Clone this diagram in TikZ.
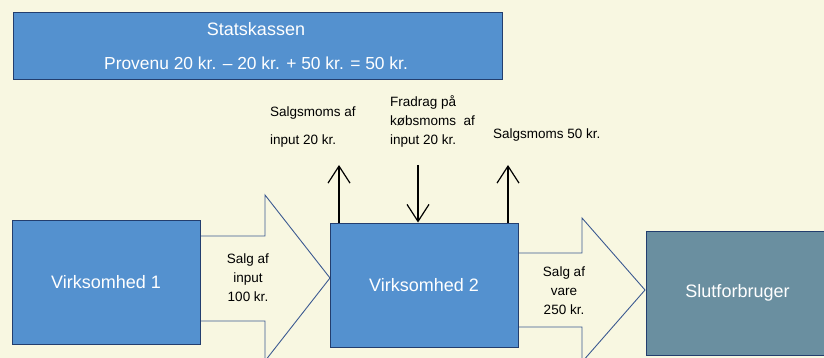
\documentclass[tikz,border=0pt]{standalone}
\usepackage{fontspec}
\setmainfont{Liberation Sans}
\usetikzlibrary{arrows.meta}
\definecolor{paper}{RGB}{248,247,225}
\definecolor{boxblue}{RGB}{84,145,207}
\definecolor{boxedge}{RGB}{35,62,110}
\definecolor{endbox}{RGB}{106,143,160}
\definecolor{flowedge}{RGB}{60,90,145}
\begin{document}
\begin{tikzpicture}[x=1pt,y=-1pt,
  box/.style={draw=boxedge,line width=1pt,fill=boxblue,inner sep=0pt,
    text=white,font=\fontsize{18}{22}\selectfont},
  boxtext/.style={text=white,font=\fontsize{18}{22}\selectfont,inner sep=0pt,anchor=base},
  flow/.style={draw=flowedge,line width=0.9pt,fill=paper,line join=miter},
  small/.style={font=\fontsize{13.5}{19}\selectfont,inner sep=0pt,text=black},
  vat/.style={draw=black,line width=1.2pt,-{Straight Barb[length=17pt,width=22pt,line width=1.2pt]}}]
% page and background
\useasboundingbox (0,0) rectangle (824,358);
\clip (0,0) rectangle (824,358);
\fill[paper] (0,0) rectangle (824,358);

% treasury box
\node[box,minimum width=489pt,minimum height=67pt] (stat) at (257.5,46.5) {};
\node[boxtext] (statname) at (256,36) {Statskassen};
\node[boxtext,font=\fontsize{17.4}{22}\selectfont] (statsum) at (256,70) {Provenu 20 kr. – 20 kr. + 50 kr. = 50 kr.};

% block arrows (drawn first, the boxes cover their tails)
\path[flow] (190,236) -- (265,236) -- (265,195) -- (330,278) -- (265,361)
  -- (265,321) -- (190,321) -- cycle;
\path[flow] (508,253) -- (582,253) -- (582,218) -- (645,290) -- (582,362)
  -- (582,327) -- (508,327) -- cycle;

% companies and consumer
\node[box,minimum width=188pt,minimum height=124pt] (v1) at (106,282) {Virksomhed 1};
\node[box,minimum width=188pt,minimum height=124pt] (v2) at (424,285) {Virksomhed 2};
\node[box,fill=endbox,minimum width=183pt,minimum height=124pt] (slut) at (737.5,293) {Slutforbruger};

% labels inside the block arrows (base = baseline of the last line)
\node[small,align=center,anchor=base] (sale1) at (248,301) {Salg af\\input\\100 kr.};
\node[small,align=center,anchor=base] (sale2) at (564,314) {Salg af\\vare\\250 kr.};

% VAT flows to and from the treasury
\coordinate (t1) at (339,165);
\coordinate (t2) at (418,165);
\coordinate (t3) at (508,165);
\draw[vat] (v2.north -| t1) -- (t1);
\draw[vat] (t2) -- (v2.north -| t2);
\draw[vat] (v2.north -| t3) -- (t3);

\node[small,align=left,anchor=base west,font=\fontsize{13.5}{28}\selectfont] (l1) at (270,145) {Salgsmoms af\\input 20 kr.};
\node[small,align=left,anchor=base west] (l2) at (390,145) {Fradrag på\\købsmoms\ \ af\\input 20 kr.};
\node[small,anchor=base west] (l3) at (493,139) {Salgsmoms 50 kr.};
\end{tikzpicture}
\end{document}
